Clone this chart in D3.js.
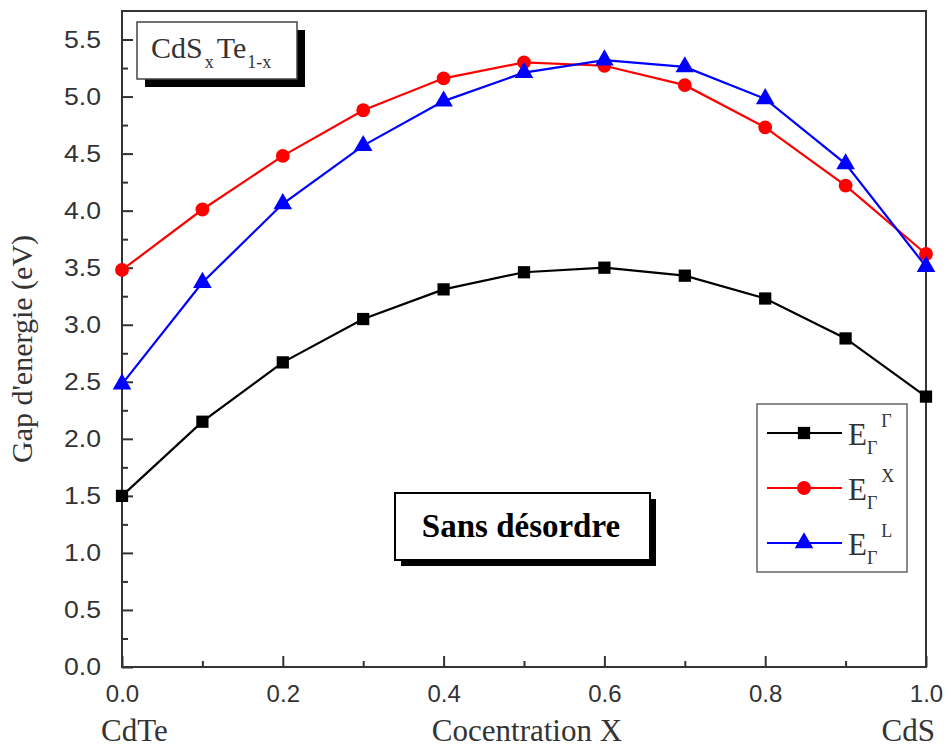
<!DOCTYPE html>
<html>
<head>
<meta charset="utf-8">
<script src="https://cdn.jsdelivr.net/npm/d3@7"></script>
<style>
  body { margin: 0; background: #fff; }
  svg { display: block; }
</style>
</head>
<body>
<script>
// data
const conc = [0.0, 0.1, 0.2, 0.3, 0.4, 0.5, 0.6, 0.7, 0.8, 0.9, 1.0];
const gammaGamma = [1.50, 2.15, 2.67, 3.05, 3.31, 3.46, 3.50, 3.43, 3.23, 2.88, 2.37];
const gammaX     = [3.48, 4.01, 4.48, 4.88, 5.16, 5.30, 5.27, 5.10, 4.73, 4.22, 3.62];
const gammaL     = [2.48, 3.37, 4.06, 4.57, 4.96, 5.21, 5.32, 5.26, 4.98, 4.41, 3.51];
const seriesSup  = ["Γ", "X", "L"];
const xTicks = [0, 0.2, 0.4, 0.6, 0.8, 1.0];
const yTicks = [0, 0.5, 1, 1.5, 2, 2.5, 3, 3.5, 4, 4.5, 5, 5.5];

const W = 951, H = 748;
const pLeft = 122, pRight = 926, pTop = 11, pBottom = 667;

const svg = d3.select("body").append("svg")
  .attr("width", W).attr("height", H);

const x = d3.scaleLinear().domain([0, 1]).range([pLeft, pRight]);
const y = d3.scaleLinear().domain([0, 5.75]).range([pBottom, pTop]);

// frame
svg.append("rect")
  .attr("x", pLeft).attr("y", pTop)
  .attr("width", pRight - pLeft).attr("height", pBottom - pTop)
  .attr("fill", "none").attr("stroke", "#333").attr("stroke-width", 2);

// y axis (ticks inward)
const yAxis = svg.append("g")
  .attr("transform", "translate(" + pLeft + ",0)")
  .call(d3.axisLeft(y).tickValues(yTicks).tickSize(-11).tickPadding(21)
    .tickFormat(d3.format(".1f")));
yAxis.select(".domain").remove();
yAxis.selectAll("line").attr("stroke", "#333").attr("stroke-width", 2);
yAxis.selectAll("text")
  .attr("font-family", "Liberation Sans, Arial, sans-serif")
  .attr("font-size", 24).attr("fill", "#333")
  .attr("textLength", 37).attr("lengthAdjust", "spacingAndGlyphs");
svg.append("g")
  .attr("transform", "translate(" + pLeft + ",0)")
  .call(d3.axisLeft(y).tickValues(d3.range(0.25, 5.75, 0.5)).tickSize(-6).tickFormat(""))
  .call(g => g.select(".domain").remove())
  .selectAll("line").attr("stroke", "#333").attr("stroke-width", 2);

// x axis (ticks inward)
const xAxis = svg.append("g")
  .attr("transform", "translate(0," + pBottom + ")")
  .call(d3.axisBottom(x).tickValues(xTicks).tickSize(-11).tickPadding(18)
    .tickFormat(d3.format(".1f")));
xAxis.select(".domain").remove();
xAxis.selectAll("line").attr("stroke", "#333").attr("stroke-width", 2);
xAxis.selectAll("text")
  .attr("font-family", "Liberation Sans, Arial, sans-serif")
  .attr("font-size", 24).attr("fill", "#333");
svg.append("g")
  .attr("transform", "translate(0," + pBottom + ")")
  .call(d3.axisBottom(x).tickValues([0.1, 0.3, 0.5, 0.7, 0.9]).tickSize(-6).tickFormat(""))
  .call(g => g.select(".domain").remove())
  .selectAll("line").attr("stroke", "#333").attr("stroke-width", 2);

// axis titles
const serif = "Liberation Serif, Times New Roman, serif";
svg.append("text")
  .attr("transform", "translate(32,349) rotate(-90)")
  .attr("text-anchor", "middle")
  .attr("font-family", serif).attr("font-size", 30).attr("fill", "#333")
  .text("Gap d'energie (eV)");
svg.append("text")
  .attr("x", 527).attr("y", 741).attr("text-anchor", "middle")
  .attr("font-family", serif).attr("font-size", 31).attr("fill", "#333")
  .text("Cocentration X");
svg.append("text")
  .attr("x", 101).attr("y", 741)
  .attr("font-family", serif).attr("font-size", 31).attr("fill", "#333")
  .text("CdTe");
svg.append("text")
  .attr("x", 935).attr("y", 741).attr("text-anchor", "end")
  .attr("font-family", serif).attr("font-size", 31).attr("fill", "#333")
  .text("CdS");

// series
const series = [
  { vals: gammaGamma, color: "#000", shape: d3.symbolSquare, size: 150 },
  { vals: gammaX, color: "#ff0000", shape: d3.symbolCircle, size: 150 },
  { vals: gammaL, color: "#0000ff", shape: d3.symbolTriangle, size: 150 }
];
const line = d3.line().x((d, i) => x(conc[i])).y(d => y(d));

series.forEach(s => {
  svg.append("path")
    .attr("d", line(s.vals))
    .attr("fill", "none").attr("stroke", s.color).attr("stroke-width", 2.2);
  svg.selectAll(null).data(s.vals).enter().append("path")
    .attr("d", d3.symbol().type(s.shape).size(s.size))
    .attr("transform", (d, i) => "translate(" + x(conc[i]) + "," + y(d) + ")")
    .attr("fill", s.color);
});

// inset box CdSxTe1-x
svg.append("rect").attr("x", 145).attr("y", 30).attr("width", 160).attr("height", 57).attr("fill", "#000");
svg.append("rect").attr("x", 137).attr("y", 22).attr("width", 160).attr("height", 57)
  .attr("fill", "#fff").attr("stroke", "#444").attr("stroke-width", 1.5);
const t1 = svg.append("text").attr("x", 151).attr("y", 58)
  .attr("font-family", serif).attr("font-size", 30).attr("fill", "#333");
t1.append("tspan").text("CdS");
t1.append("tspan").attr("font-size", 18).attr("dy", 10).attr("dx", 2).text("x");
t1.append("tspan").attr("dy", -10).attr("dx", 3).text("Te");
t1.append("tspan").attr("font-size", 18).attr("dy", 10).attr("dx", 1).text("1-x");

// Sans désordre box
svg.append("rect").attr("x", 401).attr("y", 499).attr("width", 255).attr("height", 67).attr("fill", "#000");
svg.append("rect").attr("x", 395).attr("y", 493).attr("width", 255).attr("height", 67)
  .attr("fill", "#fff").attr("stroke", "#000").attr("stroke-width", 2);
svg.append("text").attr("x", 521).attr("y", 537).attr("text-anchor", "middle")
  .attr("font-family", serif).attr("font-size", 33).attr("font-weight", "bold").attr("fill", "#000")
  .text("Sans désordre");

// legend
svg.append("rect").attr("x", 757).attr("y", 404).attr("width", 150).attr("height", 168)
  .attr("fill", "#fff").attr("stroke", "#666").attr("stroke-width", 1.5);
series.forEach((s, i) => {
  const ry = 433 + i * 55;
  svg.append("line").attr("x1", 767).attr("x2", 842).attr("y1", ry).attr("y2", ry)
    .attr("stroke", s.color).attr("stroke-width", 2.2);
  svg.append("path").attr("d", d3.symbol().type(s.shape).size(s.size))
    .attr("transform", "translate(804," + ry + ")").attr("fill", s.color);
  const lt = svg.append("text").attr("x", 848).attr("y", ry + 12)
    .attr("font-family", serif).attr("font-size", 31).attr("fill", "#333");
  lt.append("tspan").text("E");
  lt.append("tspan").attr("font-size", 18).attr("dy", 9).text("Γ");
  lt.append("tspan").attr("font-size", 18).attr("dy", -27).attr("dx", 4).text(seriesSup[i]);
});
</script>
</body>
</html>
